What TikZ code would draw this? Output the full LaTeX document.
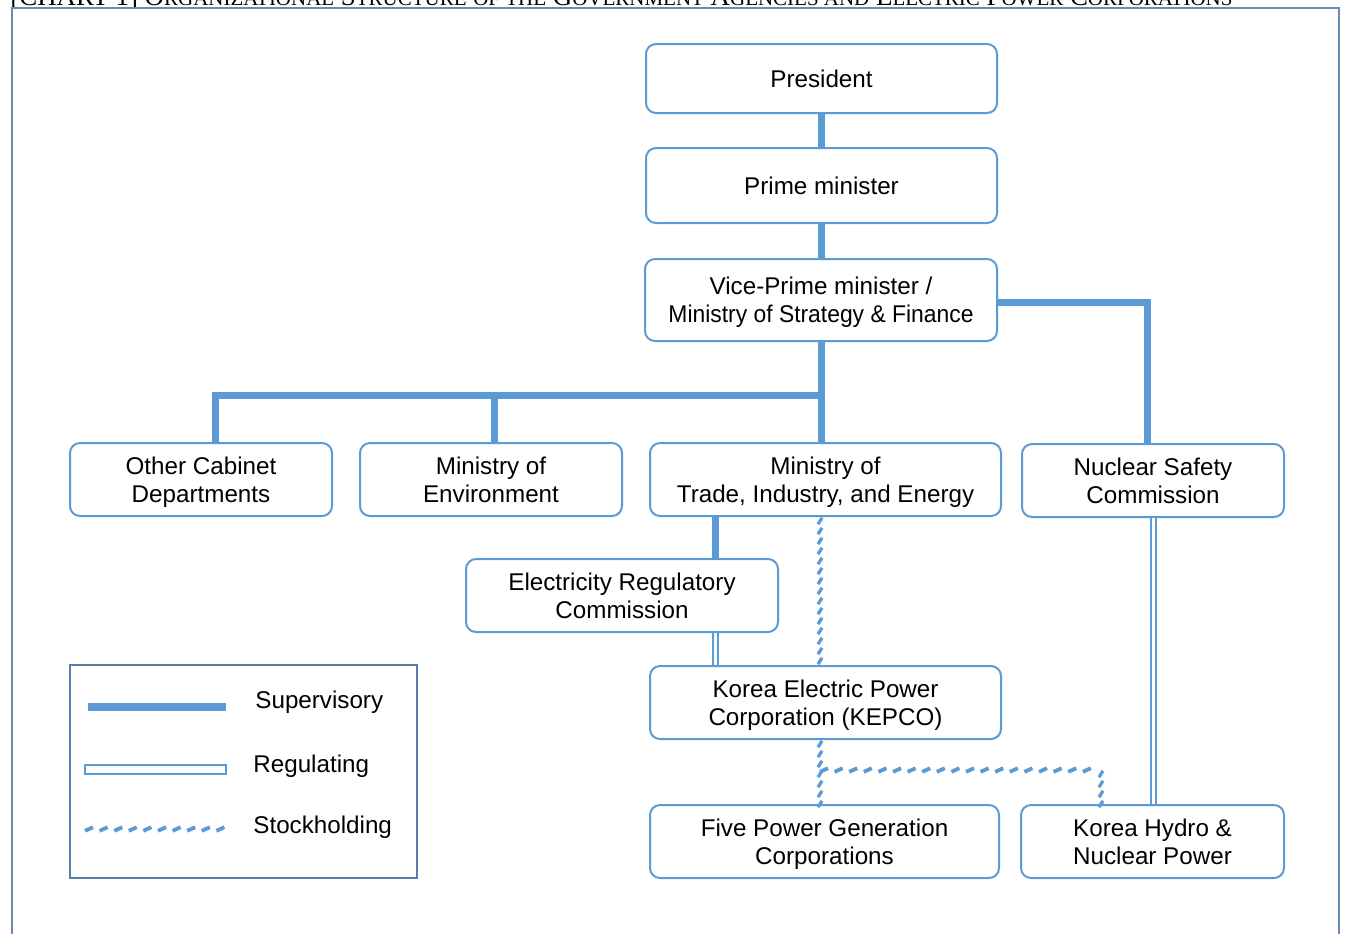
\documentclass[tikz,border=0pt]{standalone}
\usepackage{graphicx}
\usepackage{fontspec}
\newfontfamily\sansfam{Liberation Sans}
\newfontfamily\serifam{Liberation Serif}
\usetikzlibrary{decorations.markings,calc}
\definecolor{bblue}{RGB}{91,155,213}
\definecolor{frameblue}{RGB}{104,138,182}
\definecolor{lframe}{RGB}{90,125,170}
\newcommand{\bsa}{\rule{0pt}{11.5pt}}
\newcommand{\bsb}{\rule[-2.6pt]{0pt}{2.6pt}}
\newcommand{\sm}[1]{{\fontsize{7.8}{9}\selectfont #1}}
\tikzset{
  box/.style={draw=bblue, line width=1pt, rounded corners=5pt, align=center,
    font=\sansfam\fontsize{12.1}{14}\selectfont, inner sep=0pt, minimum height=36.5pt},
  legtext/.style={anchor=base west, inner sep=0pt, font=\sansfam\fontsize{12.1}{14}\selectfont},
  sup/.style={draw=bblue, line width=3.5pt},
  reg/.style={draw=bblue, line width=1pt, double=white, double distance=1.5pt},
  stockH/.style={decoration={markings, mark=between positions 2pt and 1 step 7.3pt with
    {\pgftransformresetnontranslations \draw[bblue, line width=1.9pt] (-2pt,-0.9pt) -- (2pt,0.9pt);}},
    decorate},
  stockV/.style={decoration={markings, mark=between positions 2pt and 1 step 5pt with
    {\pgftransformresetnontranslations \draw[bblue, line width=1.6pt] (-1pt,-1.6pt) -- (1pt,1.6pt);}},
    decorate},
}
\begin{document}
\begin{tikzpicture}[x=0.5pt, y=-0.5pt]
\useasboundingbox (0,0) rectangle (1347,933);
\clip (0,0) rectangle (1347,933);
\fill[white] (0,0) rectangle (1347,933);

% title (clipped at the top)
\node[anchor=base west, inner sep=0pt] (title) at (10,5)
  {\resizebox{611pt}{!}{\serifam\fontsize{10}{12}\selectfont [CHART 1] O\sm{RGANIZATIONAL} S\sm{TRUCTURE} \sm{OF THE} G\sm{OVERNMENT} A\sm{GENCIES AND} E\sm{LECTRIC} P\sm{OWER} C\sm{ORPORATIONS}}};

% outer frame
\draw[frameblue, line width=1.2pt] (12,945) -- (12,8) -- (1339,8) -- (1339,945);

% nodes
\node[box, minimum width=175.5pt, minimum height=34.5pt] (pres) at (821.5,78.5) {\bsa President\bsb};
\node[box, minimum width=175.5pt, minimum height=37.5pt] (pm) at (821.5,185.5) {\bsa Prime minister\bsb};
\node[box, minimum width=176pt, minimum height=41pt] (vpm) at (821,300) {\bsa Vice-Prime minister /\\\scalebox{0.945}[1]{Ministry of Strategy \& Finance}\bsb};
\node[box, minimum width=131pt] (oth) at (201,479.5) {\bsa Other Cabinet\\Departments\bsb};
\node[box, minimum width=131pt] (env) at (491,479.5) {\bsa Ministry of\\Environment\bsb};
\node[box, minimum width=175.5pt] (mot) at (825.5,479.5) {\bsa Ministry of\\Trade, Industry, and Energy\bsb};
\node[box, minimum width=131pt] (nsc) at (1153,480.5) {\bsa Nuclear Safety\\Commission\bsb};
\node[box, minimum width=156pt] (erc) at (622,595.5) {\bsa Electricity Regulatory\\Commission\bsb};
\node[box, minimum width=175.5pt] (kep) at (825.5,702.5) {\bsa Korea Electric Power\\Corporation (KEPCO)\bsb};
\node[box, minimum width=174.5pt] (five) at (824.5,841.5) {\bsa Five Power Generation\\Corporations\bsb};
\node[box, minimum width=131.5pt] (khnp) at (1152.5,841.5) {\bsa Korea Hydro \&\\Nuclear Power\bsb};

% helper coordinates
\coordinate (bus) at (821,395);
\coordinate (xo) at (215,0);
\coordinate (xe) at (494,0);
\coordinate (xn) at (1147,0);
\coordinate (xr) at (715,0);
\coordinate (xs) at (820,0);
\coordinate (xk) at (1101,0);
\coordinate (ys) at (0,770);

% supervisory
\draw[sup] (pres.south) -- (pm.north);
\draw[sup] (pm.south) -- (pm.south |- vpm.north);
\draw[sup] (vpm.south) -- (vpm.south |- mot.north);
\draw[sup] (oth.north -| xo) |- (bus);
\draw[sup] (env.north -| xe) -- (xe |- bus);
\draw[sup] ([yshift=-1pt]vpm.east) -| (nsc.north -| xn);
\draw[sup] (mot.south -| xr) -- (erc.north -| xr);

% regulating
\draw[reg] (erc.south -| xr) -- (kep.north -| xr);
\draw[reg] (nsc.south) -- (nsc.south |- khnp.north);

% stockholding
\path[stockV] (mot.south -| xs) -- (kep.north -| xs);
\path[stockV] (kep.south -| xs) -- (five.north -| xs);
\path[stockH] (xs |- ys) -- (xk |- ys);
\path[stockV] (xk |- ys) -- (khnp.north -| xk);

% legend
\draw[lframe, line width=1pt] (70,665) rectangle (417,878);
\draw[bblue, line width=4pt] (88,707) -- (226,707);
\draw[bblue, line width=1.1pt] (85,765) rectangle (226,774);
\path[stockH] (85,829) -- (226,829);
\node[legtext] (lsup) at (255,708) {Supervisory};
\node[legtext] (lreg) at (253,772) {Regulating};
\node[legtext] (lsto) at (253,833) {Stockholding};
\end{tikzpicture}
\end{document}
